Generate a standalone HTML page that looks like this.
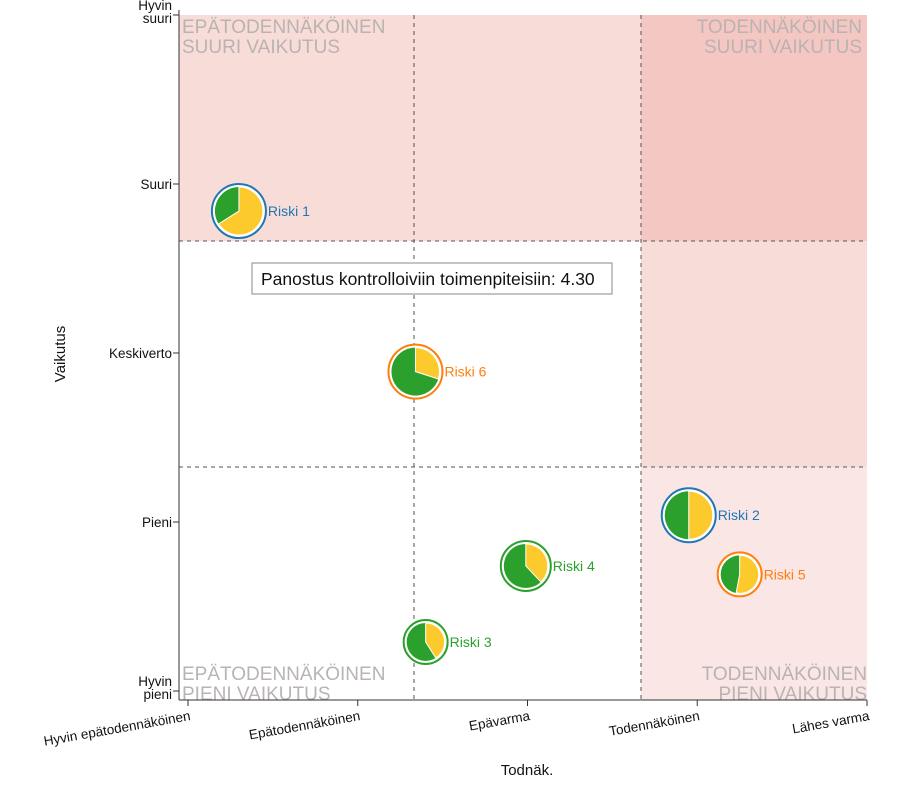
<!DOCTYPE html>
<html><head><meta charset="utf-8"><style>
body{margin:0;background:#fff;font-family:"Liberation Sans",sans-serif}
svg text{font-family:"Liberation Sans",sans-serif}
</style></head><body>
<svg id="c" width="899" height="787">
<g id="bg"></g><g id="axes"></g><g id="pts"></g>
<g>
<rect x="252" y="263" width="360" height="31" fill="#fff" stroke="#888"/>
<text x="261" y="285" font-size="17.5" fill="#111">Panostus kontrolloiviin toimenpiteisiin: 4.30</text>
</g>
</svg>
<script>
const xCats=["Hyvin epätodennäköinen","Epätodennäköinen","Epävarma","Todennäköinen","Lähes varma"];
const yCats=["Hyvin pieni","Pieni","Keskiverto","Suuri","Hyvin suuri"];
const names=["Riski 1","Riski 2","Riski 3","Riski 4","Riski 5","Riski 6"];
const probs=[1.30,3.95,2.40,2.99,4.25,2.34];
const impacts=[3.84,2.04,1.29,1.74,1.69,2.89];
const yellowShare=[0.66,0.50,0.41,0.38,0.53,0.30];
const sizes=[27,27,22,25,22,27];
const colors=["#1f77b4","#1f77b4","#2ca02c","#2ca02c","#ff7f0e","#ff7f0e"];
const ns="http://www.w3.org/2000/svg";
const X=v=>188+(v-1)*169.75, Y=v=>691-(v-1)*169;
const L=179,R=867,T=15,B=700;
function mk(p,t,a){const e=document.createElementNS(ns,t);for(const k in a)e.setAttribute(k,a[k]);p.appendChild(e);return e;}
const bg=document.getElementById('bg'),ax=document.getElementById('axes'),pts=document.getElementById('pts');
const vx1=414,vx2=641,hy1=241,hy2=467;
const zones=[[L,T,vx2,hy1,"#f8dcd8","zone-unlikely-high"],[vx2,T,R,hy1,"#f4c7c2","zone-likely-high"],[vx2,hy1,R,hy2,"#f8dcd8","zone-likely-medium"],[vx2,hy2,R,B,"#fae6e4","zone-likely-low"]];
zones.forEach(z=>{const r=mk(bg,'rect',{x:z[0],y:z[1],width:z[2]-z[0],height:z[3]-z[1],fill:z[4]});

});
[[vx1,T,vx1,B],[vx2,T,vx2,B],[L,hy1,R,hy1],[L,hy2,R,hy2]].forEach(l=>{const e=mk(bg,'line',{x1:l[0],y1:l[1],x2:l[2],y2:l[3],stroke:"#555","stroke-dasharray":"4,4"});

});
const ql=[[182,33,"start","EPÄTODENNÄKÖINEN","SUURI VAIKUTUS"],[862,33,"end","TODENNÄKÖINEN","SUURI VAIKUTUS"],[182,680,"start","EPÄTODENNÄKÖINEN","PIENI VAIKUTUS"],[867,680,"end","TODENNÄKÖINEN","PIENI VAIKUTUS"]];
ql.forEach(q=>{const t=mk(bg,'text',{x:q[0],y:q[1],"text-anchor":q[2],"font-size":"19",fill:"#b9b3b3"});


mk(t,'tspan',{x:q[0]}).textContent=q[3];mk(t,'tspan',{x:q[0],dy:"20"}).textContent=q[4];});
mk(ax,'line',{x1:L,y1:T-5,x2:L,y2:B,stroke:"#333"});
mk(ax,'line',{x1:L,y1:B,x2:R,y2:B,stroke:"#333"});
yCats.forEach((c,i)=>{const y=Y(i+1);mk(ax,'line',{x1:L-6,y1:y,x2:L,y2:y,stroke:"#333"});
const parts=c.split(" ");const t=mk(ax,'text',{x:L-7,"text-anchor":"end","font-size":"13.5",fill:"#111"});


if(parts.length>1){mk(t,'tspan',{x:L-7,y:y-5}).textContent=parts[0];mk(t,'tspan',{x:L-7,y:y+8}).textContent=parts[1];}
else{t.setAttribute('y',y+5);t.textContent=c;}});
xCats.forEach((c,i)=>{const x=X(i+1);mk(ax,'line',{x1:x,y1:B,x2:x,y2:B+6,stroke:"#333"});
const t=mk(ax,'text',{x:0,y:0,"text-anchor":"end","font-size":"13.5",fill:"#111",transform:`translate(${x+3},${B+20}) rotate(-10)`});


t.textContent=c;});
let t=mk(ax,'text',{x:527,y:775,"text-anchor":"middle","font-size":"15",fill:"#111"});t.textContent="Todnäk.";


t=mk(ax,'text',{x:0,y:0,"text-anchor":"middle","font-size":"15",fill:"#111",transform:"translate(65,354) rotate(-90)"});t.textContent="Vaikutus";


names.forEach((n,i)=>{const cx=X(probs[i]),cy=Y(impacts[i]),r=sizes[i];
const g=mk(pts,'g',{});


mk(g,'circle',{cx,cy,r,fill:"#fff",stroke:colors[i],"stroke-width":2});
const pr=r-3;mk(g,'circle',{cx,cy,r:pr,fill:"#2ca02c"});
const f=yellowShare[i];const a=f*2*Math.PI;
const ex=cx+pr*Math.sin(a),ey=cy-pr*Math.cos(a);
mk(g,'path',{d:`M${cx},${cy}L${cx},${cy-pr}A${pr},${pr} 0 ${f>0.5?1:0} 1 ${ex},${ey}Z`,fill:"#fdca2e",stroke:"#fff","stroke-width":1});
const tx=mk(g,'text',{x:cx+r+2,y:cy+5,"font-size":"14",fill:colors[i]});tx.textContent=n;});
</script>
</body></html>
